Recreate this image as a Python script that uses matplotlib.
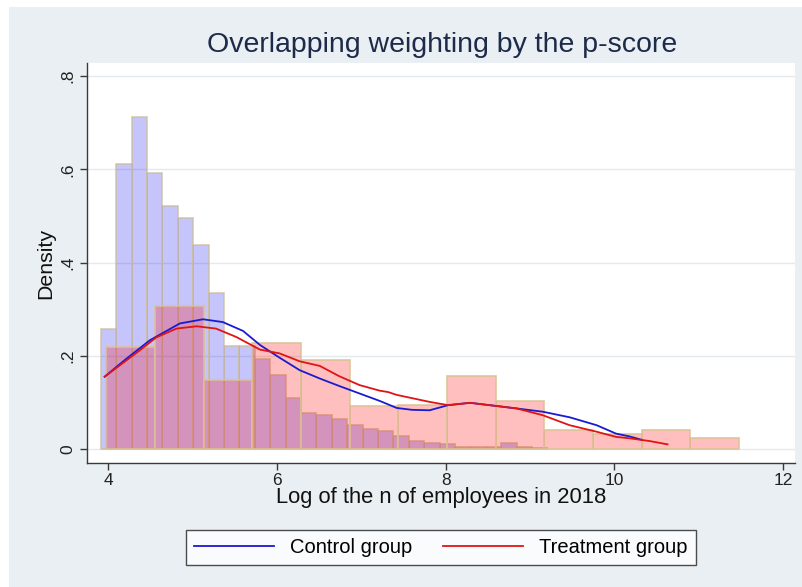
import numpy as np
import matplotlib
matplotlib.use("Agg")
import matplotlib.pyplot as plt
from matplotlib.patches import Rectangle

plt.rcParams['font.family'] = ['Liberation Sans', 'DejaVu Sans']

# control group histogram (narrow bins)
control_start = 3.913
control_width = 0.1825
control_heights = [0.258, 0.611, 0.712, 0.592, 0.521, 0.496, 0.438, 0.335, 0.222, 0.222,
                   0.193, 0.159, 0.111, 0.079, 0.074, 0.065, 0.052, 0.043, 0.039, 0.029,
                   0.018, 0.013, 0.011, 0.006, 0.006, 0.006, 0.014, 0.006, 0.003]

# treatment group histogram (wide bins)
treat_start = 3.98
treat_width = 0.5766
treat_heights = [0.220, 0.307, 0.149, 0.228, 0.191, 0.093, 0.095, 0.158, 0.104,
                 0.041, 0.034, 0.041, 0.024]

# kernel densities
control_kx = [3.96, 4.2, 4.495, 4.85, 5.125, 5.36, 5.6, 5.8, 6.03, 6.27, 6.51, 6.74, 6.98,
              7.22, 7.42, 7.6, 7.81, 8.03, 8.29, 8.52, 8.84, 9.15, 9.47, 9.79, 10.02, 10.18, 10.32]
control_ky = [0.156, 0.192, 0.234, 0.270, 0.279, 0.273, 0.254, 0.224, 0.197, 0.170, 0.152, 0.136, 0.120,
              0.104, 0.089, 0.085, 0.084, 0.095, 0.100, 0.095, 0.088, 0.081, 0.069, 0.052, 0.034, 0.028, 0.021]

treat_kx = [3.96, 4.38, 4.57, 4.81, 5.05, 5.28, 5.52, 5.8, 6.03, 6.27, 6.51, 6.74, 6.98, 7.22,
            7.32, 7.42, 7.81, 8.03, 8.29, 8.52, 8.84, 9.15, 9.47, 9.79, 10.02, 10.18, 10.42, 10.63]
treat_ky = [0.156, 0.213, 0.240, 0.259, 0.264, 0.259, 0.241, 0.214, 0.206, 0.189, 0.179, 0.157, 0.138, 0.126,
            0.123, 0.117, 0.102, 0.095, 0.100, 0.095, 0.088, 0.0735, 0.052, 0.038, 0.027, 0.024, 0.018, 0.011]

bg = '#e9eff2'
fig = plt.figure(figsize=(8.03, 5.87), dpi=100, facecolor=bg)
ax = fig.add_axes([0.1083, 0.2112, 0.8817, 0.6814])
ax.set_facecolor('white')

# white strips at top and left edge of the picture
fig.add_artist(Rectangle((0, 1 - 7 / 587), 1, 7 / 587, transform=fig.transFigure,
                         facecolor='white', edgecolor='none', zorder=-1))
fig.add_artist(Rectangle((0, 0), 9 / 803, 1, transform=fig.transFigure,
                         facecolor='white', edgecolor='none', zorder=-1))

c_left = control_start + control_width * np.arange(len(control_heights))
t_left = treat_start + treat_width * np.arange(len(treat_heights))

ax.bar(c_left, control_heights, width=control_width, align='edge',
       color=(0.05, 0.05, 0.95, 0.24), edgecolor=(0.80, 0.74, 0.62, 0.8), linewidth=1.2, zorder=2)
ax.bar(t_left, treat_heights, width=treat_width, align='edge',
       color=(1.0, 0.0, 0.0, 0.25), edgecolor=(0.86, 0.76, 0.58, 0.9), linewidth=1.2, zorder=3)

ax.plot(control_kx, control_ky, color='#1a1ad0', lw=1.3, zorder=4, label='Control group')
ax.plot(treat_kx, treat_ky, color='#e01414', lw=1.3, zorder=5, label='Treatment group')

ax.set_xlim(3.75, 12.14)
ax.set_ylim(-0.029, 0.828)
ax.set_xticks([4, 6, 8, 10, 12])
ax.set_yticks([0, 0.2, 0.4, 0.6, 0.8])
ax.set_yticklabels(['0', '.2', '.4', '.6', '.8'], rotation=90, va='center')
ax.grid(axis='y', color='#e3e9ec', lw=1.0, zorder=0)
ax.set_axisbelow(True)

for s in ['top', 'right']:
    ax.spines[s].set_visible(False)
for s in ['left', 'bottom']:
    ax.spines[s].set_color('#3a3a3a')
    ax.spines[s].set_linewidth(1.0)
ax.tick_params(axis='both', direction='out', length=5, width=1, color='#3a3a3a',
               labelsize=12.5, labelcolor='#222222')
ax.tick_params(axis='y', pad=3)
ax.tick_params(axis='x', pad=2)

ax.set_xlabel('Log of the n of employees in 2018', fontsize=15.8, color='#111111', labelpad=-0.5)
ax.set_ylabel('Density', fontsize=15.3, color='#111111', labelpad=4)
fig.suptitle('Overlapping weighting by the p-score', x=0.55, y=0.945, fontsize=20.5,
             color='#1e2a4a')

leg = fig.legend(loc='center', bbox_to_anchor=(0.549, 0.068), ncol=2, fontsize=14.5,
                 handlelength=4.0, columnspacing=1.5, handletextpad=0.8,
                 frameon=True, fancybox=False, borderpad=0.4)
leg.get_frame().set_edgecolor('#222222')
leg.get_frame().set_linewidth(1.0)
leg.get_frame().set_facecolor('white')

fig.savefig('out.png', dpi=100, facecolor=bg)
